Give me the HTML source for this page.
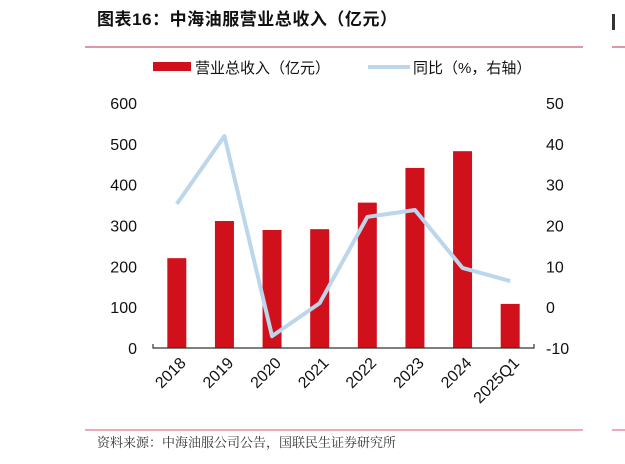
<!DOCTYPE html>
<html><head><meta charset="utf-8"><style>
body{margin:0;background:#fff;width:625px;height:459px;overflow:hidden;font-family:"Liberation Sans","Noto Sans CJK SC",sans-serif}
</style></head><body>
<svg width="625" height="459" xmlns="http://www.w3.org/2000/svg" font-family="Liberation Sans, Noto Sans CJK SC, sans-serif">
<text x="97" y="25" font-size="17" font-weight="bold" fill="#111" textLength="300" lengthAdjust="spacing">图表16：中海油服营业总收入（亿元）</text>
<line x1="85" y1="47" x2="583" y2="47" stroke="#b8304a" stroke-width="1"/>
<line x1="612" y1="47" x2="625" y2="47" stroke="#b8304a"/>
<rect x="612" y="14" width="3" height="16" fill="#333"/>
<g>
<rect x="153" y="62" width="38" height="9" fill="#d0111b"/>
<text x="195" y="73" font-size="15" fill="#111">营业总收入（亿元）</text>
<line x1="368" y1="67" x2="410" y2="67" stroke="#bcd6ec" stroke-width="4"/>
<text x="413" y="73" font-size="15" fill="#111">同比（%，右轴）</text>
</g>
<g id="plot"></g>
<line x1="85" y1="430" x2="583" y2="430" stroke="#e05070"/>
<line x1="612" y1="430" x2="625" y2="430" stroke="#e05070"/>
<text x="97" y="447" font-size="13" fill="#333" font-family="Noto Serif CJK SC, serif">资料来源：中海油服公司公告，国联民生证券研究所</text>
</svg>
<script>
const categories=["2018","2019","2020","2021","2022","2023","2024","2025Q1"];
const revenue=[220,311,289,291,356,441,482,108];
const yoy=[25.3,41.9,-7.1,1.0,22.1,23.8,9.6,6.4];
const leftTicks=[0,100,200,300,400,500,600];
const rightTicks=[-10,0,10,20,30,40,50];
const NS="http://www.w3.org/2000/svg";
const g=document.getElementById("plot");
const x0=153,x1=534,yTop=103,yBot=348;
const step=(x1-x0)/categories.length;
const xc=i=>x0+step*(i+0.5);
const yL=v=>yBot-(v/600)*(yBot-yTop);
const yR=v=>yBot-((v+10)/60)*(yBot-yTop);
function mk(t,a){const e=document.createElementNS(NS,t);for(const k in a)e.setAttribute(k,a[k]);g.appendChild(e);return e;}
leftTicks.forEach(v=>{const t=mk("text",{x:137,y:yL(v)+6,"text-anchor":"end","font-size":16,fill:"#111"});t.textContent=v;

});
rightTicks.forEach(v=>{const t=mk("text",{x:546,y:yR(v)+6,"font-size":16,fill:"#111"});t.textContent=v;

});
revenue.forEach((v,i)=>{const r=mk("rect",{x:xc(i)-9.5,y:yL(v),width:19,height:yBot-yL(v),fill:"#d0111b"});

});
const ax=mk("path",{d:`M${x0} ${yBot-4}V${yBot}H${x1}V${yBot-4}`,stroke:"#333","stroke-width":1.2,fill:"none"});


const pl=mk("polyline",{points:yoy.map((v,i)=>xc(i)+","+yR(v)).join(" "),fill:"none",stroke:"#bcd6ec","stroke-width":4,"stroke-linejoin":"round"});


categories.forEach((c,i)=>{const t=mk("text",{"font-size":16,fill:"#111","text-anchor":"end",transform:`translate(${xc(i)+10},${yBot+16}) rotate(-45)`});t.textContent=c;

});
</script>
</body></html>
